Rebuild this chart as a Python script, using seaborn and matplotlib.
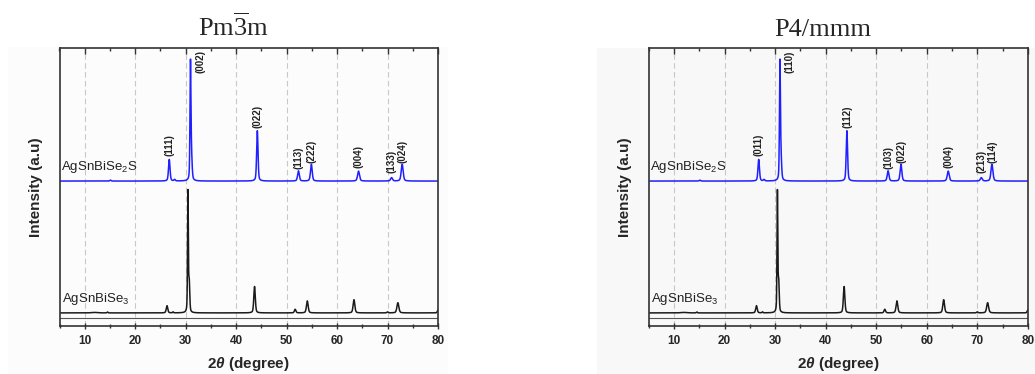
import numpy as np
import pandas as pd
import matplotlib
matplotlib.use("Agg")
import matplotlib.pyplot as plt
from matplotlib.ticker import MultipleLocator
from matplotlib.patches import Rectangle
import seaborn as sns

# peak lists (2theta, height, fwhm)
se2s_pos = [15.1, 26.75, 27.8, 30.95, 31.15, 44.2, 52.35, 54.9, 64.25, 70.8, 72.9]
se2s_height = [0.8, 18, 1.2, 96, 18, 42, 8.5, 14, 8.3, 2.8, 14]
se2s_fwhm = [0.3, 0.35, 0.3, 0.22, 0.3, 0.32, 0.4, 0.4, 0.45, 0.45, 0.45]

se3_pos = [12.0, 14.5, 26.3, 27.5, 30.45, 30.7, 43.65, 51.7, 54.1, 63.35, 70.0, 72.05, 80.0]
se3_height = [0.4, 0.8, 6, 0.8, 100, 25, 22, 3, 10, 11, 0.8, 8.5, 2.5]
se3_fwhm = [1.5, 0.2, 0.35, 0.2, 0.18, 0.25, 0.35, 0.35, 0.4, 0.4, 0.3, 0.45, 0.3]

se2s_offset = 110

# hkl labels (x, y of label bottom)
hkl_x = [26.75, 32.9, 44.25, 52.35, 54.95, 64.25, 70.85, 73.0]
hkl_y = [131, 200, 154, 120, 125, 121, 117, 125]
hkl_cubic = ["(111)", "(002)", "(022)", "(113)", "(222)", "(004)", "(133)", "(024)"]
hkl_tetra = ["(011)", "(110)", "(112)", "(103)", "(022)", "(004)", "(213)", "(114)"]

titles = [r"Pm$\mathrm{\overline{3}}$m", "P4/mmm"]
sample_names = ["AgSnBiSe$_\\mathsf{2}$S", "AgSnBiSe$_\\mathsf{3}$"]


def pattern(tt, pos, height, fwhm, offset=0.0):
    y = np.zeros_like(tt)
    for c, h, w in zip(pos, height, fwhm):
        g = np.exp(-4 * np.log(2) * ((tt - c) / w) ** 2)
        l = 1 / (1 + 4 * ((tt - c) / w) ** 2)
        y += h * (0.6 * g + 0.4 * l)
    return y + offset


tt = np.arange(5, 80.001, 0.01)
df = pd.concat([
    pd.DataFrame({"tt": tt, "I": pattern(tt, se2s_pos, se2s_height, se2s_fwhm, se2s_offset),
                  "sample": "Se2S"}),
    pd.DataFrame({"tt": tt, "I": pattern(tt, se3_pos, se3_height, se3_fwhm), "sample": "Se3"}),
])

sns.set_style("ticks")
plt.rcParams["font.family"] = ["Liberation Sans", "DejaVu Sans"]
plt.rcParams["mathtext.fontset"] = "custom"
plt.rcParams["mathtext.rm"] = "Liberation Serif"
plt.rcParams["mathtext.sf"] = "Liberation Sans"
plt.rcParams["mathtext.it"] = "Liberation Sans:italic:bold"

fig = plt.figure(figsize=(10.35, 3.74), dpi=100)

# faint scanned background boxes
fig.patches.append(Rectangle((8 / 1035, 0), 440 / 1035, 1 - 47 / 374, transform=fig.transFigure,
                             facecolor="#fcfcfc", edgecolor="none", zorder=-5))
fig.patches.append(Rectangle((597 / 1035, 0), 438 / 1035, 1 - 48 / 374, transform=fig.transFigure,
                             facecolor="#f8f8f8", edgecolor="none", zorder=-5))

ax_left = fig.add_axes([59.5 / 1035, 1 - 325.5 / 374, 378.5 / 1035, 277.5 / 374])
ax_right = fig.add_axes([648.8 / 1035, 1 - 325.5 / 374, 379 / 1035, 277.5 / 374])
title_x = [233.5 / 1035, 823 / 1035]

for ax, labels, title, tx, bg in zip([ax_left, ax_right], [hkl_cubic, hkl_tetra], titles, title_x,
                                     ["#fcfcfc", "#f8f8f8"]):
    ax.set_facecolor(bg)
    for g in range(10, 80, 10):
        ax.axvline(g, color="#c8c8c8", lw=0.8, ls=(0, (5, 3)), zorder=0)
    ax.axhline(-4, color="#555555", lw=0.8, zorder=1)
    sns.lineplot(data=df, x="tt", y="I", hue="sample", palette={"Se2S": "#1f1fff", "Se3": "#1a1a1a"},
                 estimator=None, sort=False, legend=False, ax=ax, lw=1.1)
    ax.set_xlim(5, 80)
    ax.set_ylim(-10.5, 221)
    ax.xaxis.set_major_locator(MultipleLocator(10))
    ax.xaxis.set_minor_locator(MultipleLocator(5))
    ax.set_yticks([])
    ax.tick_params(axis="x", which="major", direction="inout", length=5, width=1, top=False,
                   labelsize=8.5, pad=4, color="#333333")
    ax.tick_params(axis="x", which="minor", direction="inout", length=3, width=1, top=False,
                   color="#333333")
    for lab in ax.get_xticklabels():
        lab.set_fontweight("bold")
    sec = ax.secondary_xaxis("top")
    sec.xaxis.set_major_locator(MultipleLocator(10))
    sec.xaxis.set_minor_locator(MultipleLocator(5))
    sec.tick_params(which="major", direction="in", length=4, width=1, labeltop=False, color="#333333")
    sec.tick_params(which="minor", direction="in", length=2.5, width=1, color="#333333")
    sec.spines["top"].set_visible(False)
    for s in ax.spines.values():
        s.set_color("#333333")
        s.set_linewidth(1.2)
    ax.set_xlabel(r"2$\mathit{\theta}$ (degree)", fontsize=11, fontweight="bold", labelpad=6)
    ax.set_ylabel("Intensity (a.u)", fontsize=11, fontweight="bold", labelpad=12)
    for x, y, t in zip(hkl_x, hkl_y, labels):
        ax.text(x, y, t, rotation=90, ha="center", va="bottom", fontsize=7, fontweight="bold",
                color="#222222")
    ax.text(5.3, 122, sample_names[0], fontsize=9.5, va="center", ha="left", color="#222222")
    ax.text(5.4, 11.5, sample_names[1], fontsize=9.5, va="center", ha="left", color="#222222")
    fig.text(tx, 1 - 36 / 374, title, fontsize=19, ha="center", va="baseline",
             family="Liberation Serif")

fig.savefig("out.png", dpi=100)
